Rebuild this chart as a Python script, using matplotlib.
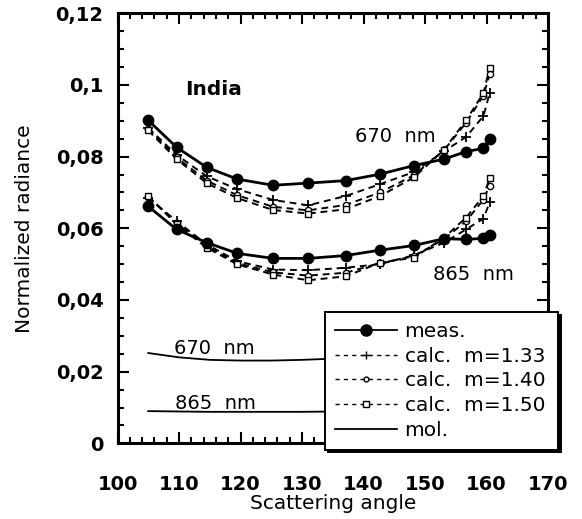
import matplotlib
matplotlib.use("Agg")
import matplotlib.pyplot as plt
from matplotlib.lines import Line2D
from matplotlib.ticker import MultipleLocator, FuncFormatter

# scattering angles of the POLDER viewing directions (deg)
angles = [105.0, 109.6, 114.5, 119.5, 125.3, 131.0, 137.1, 142.7, 148.2, 153.1, 156.7, 159.5, 160.5]

# 670 nm
meas_670 = [0.0901, 0.0826, 0.0770, 0.0737, 0.0720, 0.0726, 0.0733, 0.0751, 0.0775, 0.0793, 0.0814, 0.0823, 0.0849]
calc133_670 = [0.0880, 0.0805, 0.0745, 0.0709, 0.0679, 0.0664, 0.0690, 0.0723, 0.0757, 0.0815, 0.0855, 0.0913, 0.0976]
calc140_670 = [0.0877, 0.0798, 0.0733, 0.0692, 0.0660, 0.0650, 0.0665, 0.0700, 0.0748, 0.0818, 0.0895, 0.0970, 0.1029]
calc150_670 = [0.0873, 0.0793, 0.0726, 0.0684, 0.0651, 0.0641, 0.0653, 0.0690, 0.0742, 0.0819, 0.0902, 0.0977, 0.1046]

# 865 nm
meas_865 = [0.0661, 0.0597, 0.0560, 0.0530, 0.0516, 0.0516, 0.0524, 0.0539, 0.0552, 0.0571, 0.0569, 0.0572, 0.0580]
calc133_865 = [0.0685, 0.0620, 0.0555, 0.0508, 0.0485, 0.0483, 0.0490, 0.0500, 0.0525, 0.0560, 0.0597, 0.0627, 0.0672]
calc140_865 = [0.0688, 0.0615, 0.0550, 0.0503, 0.0477, 0.0468, 0.0476, 0.0503, 0.0522, 0.0570, 0.0620, 0.0680, 0.0719]
calc150_865 = [0.0690, 0.0611, 0.0546, 0.0499, 0.0471, 0.0455, 0.0466, 0.0504, 0.0518, 0.0574, 0.0630, 0.0690, 0.0739]

# molecular contribution
mol_angles = [105, 110, 115, 120, 125, 130, 136]
mol_670 = [0.0252, 0.0240, 0.0233, 0.0231, 0.0231, 0.0233, 0.0237]
mol_865 = [0.0090, 0.0089, 0.0088, 0.0088, 0.0088, 0.0088, 0.0089]

fig = plt.figure(figsize=(5.82, 5.19), dpi=100)
ax = fig.add_axes([0.2019, 0.1457, 0.7397, 0.8289])

dash = (0, (3.5, 2.5))
calc_styles = [
    dict(marker='+', ms=7, mew=1.3, mfc='black'),
    dict(marker='o', ms=4.5, mew=1.0, mfc='white'),
    dict(marker='s', ms=5, mew=1.0, mfc='white'),
]

for series in ([calc133_670, calc140_670, calc150_670], [calc133_865, calc140_865, calc150_865]):
    for vals, st in zip(series, calc_styles):
        ax.plot(angles, vals, color='black', lw=1.4, ls=dash, mec='black', **st)

for vals in (meas_670, meas_865):
    ax.plot(angles, vals, color='black', lw=2.0, marker='o', ms=7.5, mfc='black', mec='black')

ax.plot(mol_angles, mol_670, color='black', lw=1.3)
ax.plot(mol_angles, mol_865, color='black', lw=1.3)

ax.text(115.7, 0.0986, 'India', fontsize=14.5, fontweight='bold', ha='center', va='center')
ax.text(145.1, 0.0855, '670  nm', fontsize=14, ha='center', va='center')
ax.text(157.9, 0.0470, '865  nm', fontsize=14, ha='center', va='center')
ax.text(115.8, 0.0266, '670  nm', fontsize=14, ha='center', va='center')
ax.text(116.0, 0.0110, '865  nm', fontsize=14, ha='center', va='center')

ax.set_xlim(100, 170)
ax.set_ylim(0, 0.12)
ax.xaxis.set_major_locator(MultipleLocator(10))
ax.xaxis.set_minor_locator(MultipleLocator(2))
ax.yaxis.set_major_locator(MultipleLocator(0.02))
ax.yaxis.set_minor_locator(MultipleLocator(0.005))
ax.yaxis.set_major_formatter(FuncFormatter(lambda v, p: ('%g' % round(v, 3)).replace('.', ',')))

ax.tick_params(which='both', direction='in', top=True, right=True, width=1.5)
ax.tick_params(which='major', length=8)
ax.tick_params(which='minor', length=4.5)
ax.tick_params(axis='x', which='major', pad=23, labelsize=14)
ax.tick_params(axis='y', which='major', pad=10, labelsize=14)
for lab in ax.get_xticklabels() + ax.get_yticklabels():
    lab.set_fontweight('bold')
for sp in ax.spines.values():
    sp.set_linewidth(2.2)

ax.set_xlabel('Scattering angle', fontsize=14.5)
ax.set_ylabel('Normalized radiance', fontsize=14.5)
ax.xaxis.set_label_coords(0.5, -0.118)
ax.yaxis.set_label_coords(-0.195, 0.5)

handles = [
    Line2D([], [], color='black', lw=1.3, marker='o', ms=8, mfc='black', mec='black'),
    Line2D([], [], color='black', lw=1.0, ls=(0, (3, 3)), marker='+', ms=6, mew=1.0, mec='black'),
    Line2D([], [], color='black', lw=1.0, ls=(0, (3, 3)), marker='o', ms=3.5, mew=1.0, mfc='white', mec='black'),
    Line2D([], [], color='black', lw=1.0, ls=(0, (3, 3)), marker='s', ms=4, mew=1.0, mfc='white', mec='black'),
    Line2D([], [], color='black', lw=1.3),
]
labels = ['meas.', 'calc.  m=1.33', 'calc.  m=1.40', 'calc.  m=1.50', 'mol.']
leg = fig.legend(handles, labels, loc='upper left', bbox_to_anchor=(0.5584, 0.3988, 0.4003, 0.0),
                 mode='expand', fontsize=14.5, handlelength=3.1, handletextpad=0.35,
                 labelspacing=0.28, borderpad=0.5, borderaxespad=0, numpoints=1,
                 fancybox=False, framealpha=1, edgecolor='black',
                 shadow={'color': 'black', 'alpha': 1})
leg.get_frame().set_linewidth(1.4)

fig.savefig('out.png', dpi=100)
